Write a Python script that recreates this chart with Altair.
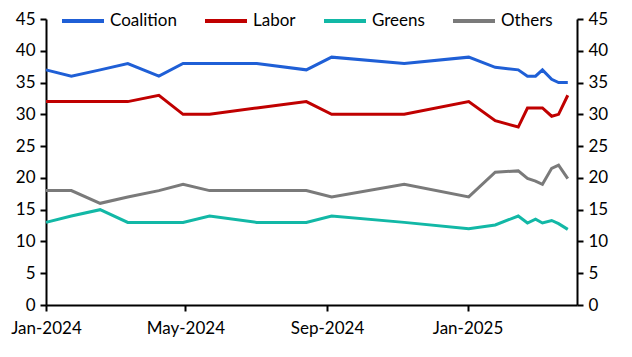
import altair as alt
import pandas as pd

dates = ["2024-01-01", "2024-01-23", "2024-02-17", "2024-03-12", "2024-04-08",
         "2024-04-29", "2024-05-22", "2024-07-02", "2024-08-14", "2024-09-05",
         "2024-11-07", "2025-01-02", "2025-01-25", "2025-02-14", "2025-02-22",
         "2025-03-01", "2025-03-07", "2025-03-15", "2025-03-21", "2025-03-29"]
coalition = [37, 36, 37, 38, 36, 38, 38, 38, 37, 39, 38, 39, 37.4, 37, 36, 36, 37, 35.5, 35, 35]
labor = [32, 32, 32, 32, 33, 30, 30, 31, 32, 30, 30, 32, 29, 28, 31, 31, 31, 29.7, 30, 33]
greens = [13, 14, 15, 13, 13, 13, 14, 13, 13, 14, 13, 12, 12.6, 14, 12.9, 13.5, 12.9, 13.3, 12.8, 11.9]
others = [18, 18, 16, 17, 18, 19, 18, 18, 18, 17, 19, 17, 20.9, 21.1, 19.9, 19.5, 19, 21.5, 22, 19.9]

parties = ["Coalition", "Labor", "Greens", "Others"]
colors = ["#1F5FD6", "#C00000", "#12B8A6", "#7A7A7A"]
y_ticks = [0, 5, 10, 15, 20, 25, 30, 35, 40, 45]

rows = []
for p, vals in zip(parties, [coalition, labor, greens, others]):
    for d, v in zip(dates, vals):
        rows.append({"date": d + "T00:00:00", "party": p, "value": v})
df = pd.DataFrame(rows)

FONT = "Lato"
FS = 17

x_enc = alt.X(
    "date:T",
    title=None,
    scale=alt.Scale(domain=[alt.DateTime(year=2024, month=1, date=1),
                            alt.DateTime(year=2025, month=4, date=6)]),
    axis=alt.Axis(
        values=[alt.DateTime(year=2024, month=1, date=1),
                alt.DateTime(year=2024, month=5, date=1),
                alt.DateTime(year=2024, month=9, date=1),
                alt.DateTime(year=2025, month=1, date=1)],
        format="%b-%Y", grid=False, domainColor="black", domainWidth=2,
        tickColor="black", tickWidth=2, tickSize=6, labelPadding=9,
        labelFont=FONT, labelFontSize=FS, labelColor="black",
        labelFlush=False,
    ),
)

color_enc = alt.Color(
    "party:N",
    scale=alt.Scale(domain=parties, range=colors),
    sort=parties,
    legend=alt.Legend(
        title=None, orient="none", direction="horizontal",
        legendX=14, legendY=-21, symbolType="stroke", symbolSize=1764,
        symbolStrokeWidth=4, labelFont=FONT, labelFontSize=FS,
        labelColor="black", labelOffset=4, columnPadding=20, padding=0,
    ),
)

def y_enc(orient):
    return alt.Y(
        "value:Q", title=None,
        scale=alt.Scale(domain=[0, 45], nice=False),
        axis=alt.Axis(
            orient=orient, values=y_ticks, grid=False, domainColor="black",
            domainWidth=2, tickColor="black", tickWidth=2, tickSize=6,
            labelPadding=5, labelFont=FONT, labelFontSize=FS, labelColor="black",
        ),
    )

base = alt.Chart(df)
left = base.mark_line(strokeWidth=3).encode(
    x=x_enc, y=y_enc("left"), color=color_enc, order="date:T"
)
right = base.mark_line(strokeWidth=3, opacity=0).encode(
    x=x_enc, y=y_enc("right"),
    color=alt.Color("party:N", scale=alt.Scale(domain=parties, range=colors), legend=None)
)

chart = alt.layer(left, right).resolve_scale(y="independent").properties(
    width=531, height=286,
    autosize=alt.AutoSizeParams(type="none"),
    padding={"left": 38, "top": 11, "right": 45, "bottom": 40},
).configure_view(stroke=None)

chart.save("out.html", embed_options={"renderer": "svg", "actions": False})
